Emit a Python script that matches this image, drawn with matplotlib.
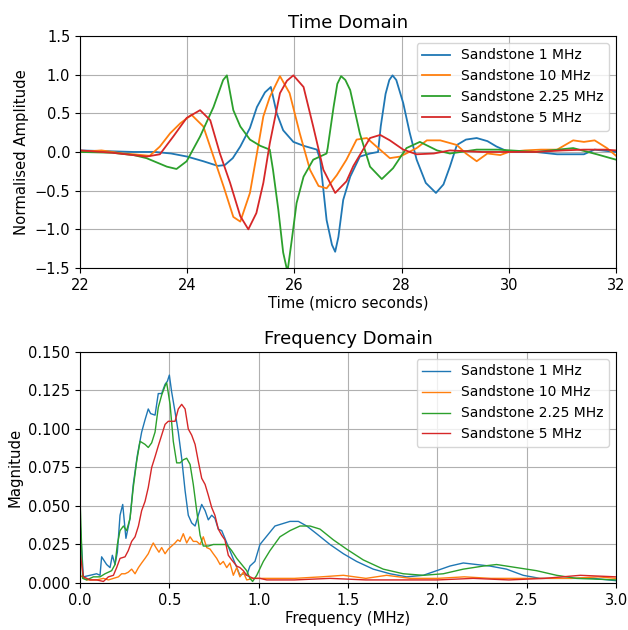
import matplotlib
matplotlib.use("Agg")
import matplotlib.pyplot as plt
from matplotlib.ticker import FormatStrFormatter

# ---- time domain (micro seconds, normalised amplitude) ----
T_1MHZ = [22.0, 22.5, 23.0, 23.4, 23.7, 24.0, 24.3, 24.57, 24.7, 24.85, 24.99, 25.17,
          25.3, 25.45, 25.56, 25.67, 25.79, 25.98, 26.17, 26.42, 26.48, 26.6, 26.7,
          26.76, 26.82, 26.91, 27.04, 27.22, 27.41, 27.56, 27.61, 27.7, 27.77, 27.83,
          27.9, 28.03, 28.15, 28.28, 28.45, 28.64, 28.78, 28.9, 29.03, 29.2, 29.4,
          29.6, 29.77, 30.0, 30.5, 30.9, 31.4, 31.6, 32.0]
A_1MHZ = [0.02, 0.01, 0.0, 0.0, -0.02, -0.06, -0.12, -0.18, -0.17, -0.08, 0.07, 0.31,
          0.58, 0.77, 0.84, 0.50, 0.28, 0.13, 0.08, 0.03, -0.10, -0.88, -1.2,
          -1.29, -1.1, -0.62, -0.32, -0.06, -0.02, 0.0, 0.33, 0.75, 0.93, 0.99,
          0.93, 0.63, 0.25, -0.10, -0.40, -0.53, -0.42, -0.19, 0.09, 0.16, 0.18,
          0.14, 0.07, 0.0, 0.0, -0.03, -0.03, 0.03, 0.0]

T_10MHZ = [22.0, 22.4, 22.8, 23.0, 23.3, 23.49, 23.68, 23.87, 24.08, 24.3, 24.49, 24.68,
           24.86, 24.99, 25.17, 25.3, 25.42, 25.54, 25.73, 25.91, 26.1, 26.29, 26.45,
           26.6, 26.79, 26.97, 27.16, 27.35, 27.53, 27.78, 27.97, 28.28, 28.47, 28.72,
           29.03, 29.2, 29.4, 29.6, 29.84, 30.0, 30.3, 30.6, 30.9, 31.2, 31.4, 31.6,
           31.83, 32.0]
A_10MHZ = [0.0, 0.02, -0.02, -0.03, -0.05, 0.07, 0.24, 0.37, 0.48, 0.33, -0.06, -0.45,
           -0.84, -0.90, -0.53, -0.02, 0.46, 0.71, 0.98, 0.76, 0.24, -0.23, -0.44,
           -0.47, -0.30, -0.10, 0.16, 0.18, 0.07, -0.08, -0.06, 0.05, 0.15, 0.15,
           0.09, -0.02, -0.12, -0.02, -0.04, 0.0, 0.02, 0.03, 0.03, 0.15, 0.13, 0.15,
           0.05, -0.05]

T_225MHZ = [22.0, 22.6, 23.0, 23.24, 23.62, 23.8, 23.99, 24.24, 24.49, 24.67, 24.74,
            24.86, 24.99, 25.17, 25.36, 25.54, 25.6, 25.7, 25.79, 25.87, 25.95, 26.04,
            26.17, 26.35, 26.6, 26.62, 26.73, 26.8, 26.87, 26.95, 27.04, 27.22, 27.41,
            27.63, 27.84, 28.09, 28.34, 28.66, 28.9, 29.4, 29.8, 30.5, 31.2, 31.64, 32.0]
A_225MHZ = [0.0, -0.01, -0.04, -0.08, -0.19, -0.22, -0.12, 0.20, 0.58, 0.93, 0.99,
            0.54, 0.33, 0.16, 0.08, 0.03, -0.23, -0.75, -1.3, -1.55, -1.14, -0.66,
            -0.32, -0.10, -0.02, 0.05, 0.58, 0.88, 0.98, 0.93, 0.80, 0.24, -0.19,
            -0.35, -0.21, 0.05, 0.13, 0.02, -0.02, 0.03, 0.03, 0.0, 0.05, -0.03, -0.10]

T_5MHZ = [22.0, 22.6, 23.24, 23.49, 23.74, 23.99, 24.24, 24.43, 24.61, 24.8, 24.99,
          25.14, 25.29, 25.42, 25.54, 25.73, 25.86, 25.98, 26.17, 26.35, 26.54, 26.76,
          26.97, 27.1, 27.22, 27.41, 27.6, 27.78, 28.03, 28.28, 28.6, 28.9, 29.5, 30.0,
          30.5, 31.0, 31.4, 31.8, 32.0]
A_5MHZ = [0.02, -0.01, -0.06, -0.03, 0.20, 0.44, 0.54, 0.41, -0.02, -0.40, -0.83,
          -1.0, -0.79, -0.40, 0.11, 0.76, 0.92, 0.99, 0.84, 0.33, -0.23, -0.53,
          -0.38, -0.18, -0.04, 0.18, 0.22, 0.15, 0.03, -0.03, -0.02, 0.02, 0.0, 0.0,
          0.0, 0.02, 0.03, 0.03, 0.02]

# ---- frequency domain (MHz, magnitude) ----
F_1MHZ = [0.0, 0.019, 0.056, 0.093, 0.112, 0.121, 0.149, 0.168, 0.181, 0.196, 0.209,
          0.224, 0.239, 0.257, 0.280, 0.298, 0.321, 0.345, 0.364, 0.382, 0.395, 0.420,
          0.438, 0.457, 0.476, 0.489, 0.500, 0.513, 0.532, 0.550, 0.569, 0.588, 0.606,
          0.625, 0.644, 0.662, 0.681, 0.700, 0.718, 0.737, 0.755, 0.774, 0.793, 0.811,
          0.839, 0.867, 0.895, 0.914, 0.933, 0.951, 0.979, 1.007, 1.035, 1.063, 1.091,
          1.119, 1.175, 1.222, 1.269, 1.324, 1.399, 1.474, 1.548, 1.641, 1.735, 1.828,
          1.921, 1.996, 2.070, 2.145, 2.219, 2.294, 2.387, 2.480, 2.574, 2.723, 2.872,
          3.0]
M_1MHZ = [0.040, 0.004, 0.005, 0.006, 0.005, 0.017, 0.012, 0.010, 0.018, 0.012, 0.020,
          0.044, 0.051, 0.029, 0.042, 0.064, 0.083, 0.098, 0.106, 0.113, 0.110, 0.109,
          0.123, 0.123, 0.129, 0.131, 0.135, 0.124, 0.111, 0.098, 0.081, 0.060, 0.044,
          0.039, 0.037, 0.044, 0.051, 0.047, 0.041, 0.044, 0.042, 0.035, 0.034, 0.029,
          0.021, 0.013, 0.005, 0.006, 0.005, 0.011, 0.014, 0.025, 0.029, 0.033, 0.037,
          0.038, 0.040, 0.040, 0.037, 0.032, 0.025, 0.019, 0.014, 0.009, 0.006, 0.004,
          0.005, 0.008, 0.011, 0.013, 0.012, 0.011, 0.009, 0.005, 0.003, 0.003, 0.003,
          0.0015]

F_10MHZ = [0.0, 0.037, 0.093, 0.131, 0.159, 0.187, 0.215, 0.233, 0.252, 0.270, 0.289,
           0.308, 0.327, 0.345, 0.364, 0.382, 0.397, 0.410, 0.425, 0.442, 0.457, 0.476,
           0.494, 0.513, 0.532, 0.547, 0.560, 0.578, 0.597, 0.616, 0.634, 0.653, 0.672,
           0.690, 0.709, 0.728, 0.746, 0.765, 0.784, 0.802, 0.821, 0.839, 0.858, 0.877,
           0.895, 0.914, 0.933, 0.970, 1.044, 1.2, 1.35, 1.474, 1.6, 1.716, 1.85, 2.0,
           2.15, 2.3, 2.45, 2.6, 2.75, 2.9, 3.0]
M_10MHZ = [0.005, 0.002, 0.002, 0.003, 0.002, 0.003, 0.004, 0.006, 0.006, 0.007, 0.009,
           0.006, 0.010, 0.013, 0.016, 0.019, 0.023, 0.026, 0.023, 0.020, 0.023, 0.019,
           0.022, 0.024, 0.026, 0.028, 0.027, 0.032, 0.026, 0.030, 0.027, 0.027, 0.025,
           0.030, 0.023, 0.022, 0.019, 0.016, 0.012, 0.014, 0.010, 0.013, 0.005, 0.010,
           0.004, 0.007, 0.002, 0.003, 0.003, 0.003, 0.004, 0.005, 0.003, 0.005, 0.003,
           0.003, 0.004, 0.003, 0.003, 0.003, 0.003, 0.004, 0.003]

F_225MHZ = [0.0, 0.015, 0.037, 0.075, 0.112, 0.140, 0.177, 0.196, 0.209, 0.224, 0.243,
            0.261, 0.280, 0.298, 0.317, 0.336, 0.364, 0.382, 0.401, 0.420, 0.438, 0.457,
            0.476, 0.485, 0.504, 0.522, 0.541, 0.560, 0.578, 0.597, 0.616, 0.634, 0.653,
            0.672, 0.690, 0.718, 0.746, 0.784, 0.821, 0.849, 0.877, 0.905, 0.933, 0.951,
            0.966, 0.989, 1.026, 1.063, 1.119, 1.175, 1.231, 1.287, 1.343, 1.418, 1.492,
            1.585, 1.697, 1.809, 1.921, 2.033, 2.145, 2.257, 2.331, 2.443, 2.555, 2.667,
            2.779, 2.891, 3.0]
M_225MHZ = [0.055, 0.003, 0.002, 0.004, 0.004, 0.006, 0.008, 0.012, 0.025, 0.034, 0.037,
            0.034, 0.042, 0.062, 0.079, 0.092, 0.090, 0.088, 0.091, 0.098, 0.114, 0.122,
            0.128, 0.130, 0.116, 0.092, 0.078, 0.078, 0.080, 0.081, 0.077, 0.064, 0.047,
            0.031, 0.024, 0.024, 0.025, 0.025, 0.025, 0.021, 0.016, 0.012, 0.008, 0.003,
            0.001, 0.005, 0.014, 0.021, 0.030, 0.034, 0.037, 0.037, 0.035, 0.028, 0.022,
            0.015, 0.009, 0.006, 0.005, 0.006, 0.009, 0.011, 0.012, 0.010, 0.008, 0.005,
            0.003, 0.0025, 0.002]

F_5MHZ = [0.0, 0.019, 0.056, 0.093, 0.131, 0.159, 0.187, 0.205, 0.224, 0.252, 0.270,
          0.289, 0.308, 0.327, 0.345, 0.364, 0.382, 0.401, 0.420, 0.438, 0.457, 0.476,
          0.494, 0.513, 0.532, 0.550, 0.569, 0.588, 0.606, 0.625, 0.644, 0.662, 0.681,
          0.700, 0.718, 0.737, 0.755, 0.774, 0.793, 0.811, 0.830, 0.849, 0.877, 0.895,
          0.914, 0.933, 0.970, 1.007, 1.045, 1.2, 1.4, 1.6, 1.8, 2.0, 2.2, 2.4, 2.6,
          2.8, 3.0]
M_5MHZ = [0.020, 0.004, 0.002, 0.002, 0.001, 0.004, 0.005, 0.010, 0.016, 0.017, 0.021,
          0.027, 0.030, 0.037, 0.047, 0.053, 0.062, 0.075, 0.082, 0.089, 0.096, 0.103,
          0.105, 0.105, 0.105, 0.113, 0.116, 0.113, 0.100, 0.096, 0.090, 0.079, 0.068,
          0.064, 0.057, 0.049, 0.044, 0.035, 0.031, 0.028, 0.018, 0.015, 0.011, 0.010,
          0.008, 0.005, 0.003, 0.003, 0.002, 0.002, 0.003, 0.002, 0.002, 0.002, 0.003,
          0.002, 0.003, 0.005, 0.004]

LABELS = ["Sandstone 1 MHz", "Sandstone 10 MHz", "Sandstone 2.25 MHz", "Sandstone 5 MHz"]
MAG_TICKS = [0.0, 0.025, 0.05, 0.075, 0.1, 0.125, 0.15]

plt.rcParams["xtick.labelsize"] = 10.5
plt.rcParams["ytick.labelsize"] = 10.5
plt.rcParams["axes.labelsize"] = 10.7

fig = plt.figure(figsize=(6.28, 6.30), dpi=100)
ax1 = fig.add_axes([0.1274, 0.5746, 0.8536, 0.3684])
ax2 = fig.add_axes([0.1274, 0.0746, 0.8536, 0.3667])

time_series = [(T_1MHZ, A_1MHZ), (T_10MHZ, A_10MHZ), (T_225MHZ, A_225MHZ), (T_5MHZ, A_5MHZ)]
for (t, a), lab in zip(time_series, LABELS):
    ax1.plot(t, a, label=lab, linewidth=1.3)
ax1.set_xlim(22, 32)
ax1.set_ylim(-1.5, 1.5)
ax1.set_title("Time Domain", fontsize=13)
ax1.set_xlabel("Time (micro seconds)", labelpad=2)
ax1.set_ylabel("Normalised Amplitude")
ax1.grid(True)
ax1.legend(loc="upper right")

freq_series = [(F_1MHZ, M_1MHZ), (F_10MHZ, M_10MHZ), (F_225MHZ, M_225MHZ), (F_5MHZ, M_5MHZ)]
for (f, m), lab in zip(freq_series, LABELS):
    ax2.plot(f, m, label=lab, linewidth=1.0)
ax2.set_xlim(0, 3)
ax2.set_ylim(0, 0.15)
ax2.set_yticks(MAG_TICKS)
ax2.yaxis.set_major_formatter(FormatStrFormatter("%.3f"))
ax2.set_title("Frequency Domain", fontsize=13)
ax2.set_xlabel("Frequency (MHz)", labelpad=2)
ax2.set_ylabel("Magnitude")
ax2.grid(True)
ax2.legend(loc="upper right")

fig.savefig("out.png", dpi=100)
